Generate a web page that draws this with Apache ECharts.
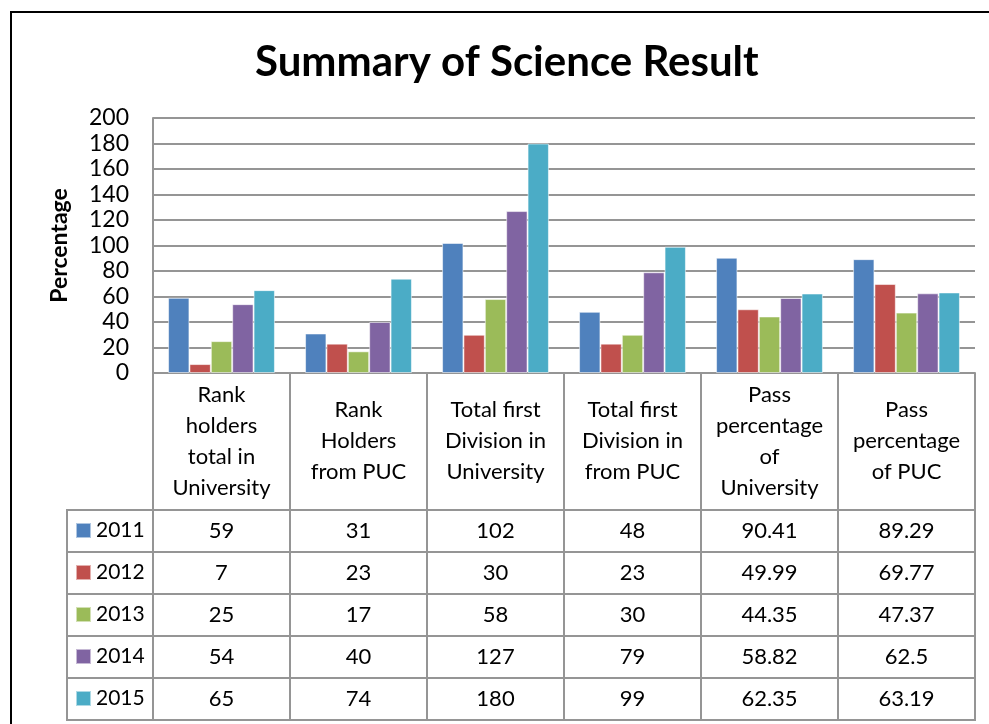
<!DOCTYPE html>
<html><head><meta charset="utf-8">
<script src="https://cdn.jsdelivr.net/npm/echarts@6/dist/echarts.min.js"></script>
<style>html,body{margin:0;padding:0;background:#fff}#c{width:989px;height:724px}</style>
</head><body><div id="c"></div>
<script>
const titleText = 'Summary of Science Result';
const yAxisName = 'Percentage';
const categories = ['Rank\nholders\ntotal in\nUniversity', 'Rank\nHolders\nfrom PUC', 'Total first\nDivision in\nUniversity', 'Total first\nDivision in\nfrom PUC', 'Pass\npercentage\nof\nUniversity', 'Pass\npercentage\nof PUC'];
const years = ['2011', '2012', '2013', '2014', '2015'];
const v2011 = [59, 31, 102, 48, 90.41, 89.29];
const v2012 = [7, 23, 30, 23, 49.99, 69.77];
const v2013 = [25, 17, 58, 30, 44.35, 47.37];
const v2014 = [54, 40, 127, 79, 58.82, 62.5];
const v2015 = [65, 74, 180, 99, 62.35, 63.19];
const yMin = 0, yMax = 200, yStep = 20;
const colors = ['#4F81BD', '#C0504D', '#9BBB59', '#8064A2', '#4BACC6'];

const allValues = [v2011, v2012, v2013, v2014, v2015];
const FONT = 'Lato, "DejaVu Sans", sans-serif';
const GRID_LINE = '#959595';

const chart = echarts.init(document.getElementById('c'), null, {renderer: 'canvas'});
const option = {
  animation: false,
  backgroundColor: '#fff',
  color: colors,
  title: {
    text: titleText, left: 250, top: 36,
    textStyle: {fontFamily: FONT, fontSize: 42, fontWeight: 'bold', color: '#000'}
  },
  legend: {
    orient: 'vertical', left: 75, top: 520, padding: 0, itemWidth: 15, itemHeight: 15, itemGap: 21,
    icon: 'rect', selectedMode: false,
    textStyle: {fontFamily: FONT, fontSize: 21, color: '#000'},
    data: years
  },
  grid: {left: 153, right: 14, top: 118, bottom: 351, containLabel: false},
  xAxis: {
    type: 'category', data: categories,
    axisLine: {lineStyle: {color: GRID_LINE, width: 2}},
    axisTick: {show: true, interval: 0, length: 347, lineStyle: {color: GRID_LINE, width: 2}},
    axisLabel: {interval: 0, margin: 68, verticalAlign: 'middle', lineHeight: 31,
      fontFamily: FONT, fontSize: 22, color: '#000', align: 'center'}
  },
  yAxis: {
    type: 'value', min: yMin, max: yMax, interval: yStep,
    name: yAxisName, nameLocation: 'middle', nameGap: 82,
    nameTextStyle: {fontFamily: FONT, fontSize: 23, fontWeight: 'bold', color: '#000'},
    axisLine: {show: true, lineStyle: {color: GRID_LINE, width: 2}},
    axisTick: {show: false},
    splitLine: {lineStyle: {color: GRID_LINE, width: 2}},
    axisLabel: {margin: 24, fontFamily: FONT, fontSize: 23, color: '#000'}
  },
  series: years.map((y, i) => ({
    name: y, type: 'bar', data: allValues[i],
    barGap: '0%', barCategoryGap: '22%',
    itemStyle: {borderColor: 'rgba(255,255,255,0.55)', borderWidth: 1}
  }))
};
chart.setOption(option);

// Data table drawn from the same data, positioned with the chart's own scales
const rowH = 42;
const baseY = chart.convertToPixel({yAxisIndex: 0}, 0);
const tableTop = baseY + 137;
const leftX = 67;
const step = chart.convertToPixel({xAxisIndex: 0}, 1) - chart.convertToPixel({xAxisIndex: 0}, 0);
const rightX = chart.convertToPixel({xAxisIndex: 0}, 0) + step * (categories.length - 0.5);
const graphics = [];
graphics.push({type: 'rect', shape: {x: 11, y: 12, width: 1200, height: 1000},
  style: {fill: 'none', stroke: '#000', lineWidth: 2}, z: 100, silent: true});
for (let k = 0; k <= years.length; k++) {
  const y = Math.round(tableTop + k * rowH);
  graphics.push({type: 'line', shape: {x1: leftX, y1: y, x2: rightX + 1, y2: y},
    style: {stroke: GRID_LINE, lineWidth: 2}, silent: true});
}
graphics.push({type: 'line', shape: {x1: leftX, y1: tableTop - 1, x2: leftX, y2: tableTop + years.length * rowH + 1},
  style: {stroke: GRID_LINE, lineWidth: 2}, silent: true});
years.forEach((y, r) => {
  allValues[r].forEach((v, c) => {
    const cx = chart.convertToPixel({xAxisIndex: 0}, c);
    graphics.push({type: 'text', x: cx, y: tableTop + r * rowH + rowH / 2,
      style: {text: String(v), fontFamily: FONT, fontSize: 22, fill: '#000', align: 'center', verticalAlign: 'middle'},
      silent: true});
  });
});
chart.setOption({graphic: graphics});
</script>
</body></html>
